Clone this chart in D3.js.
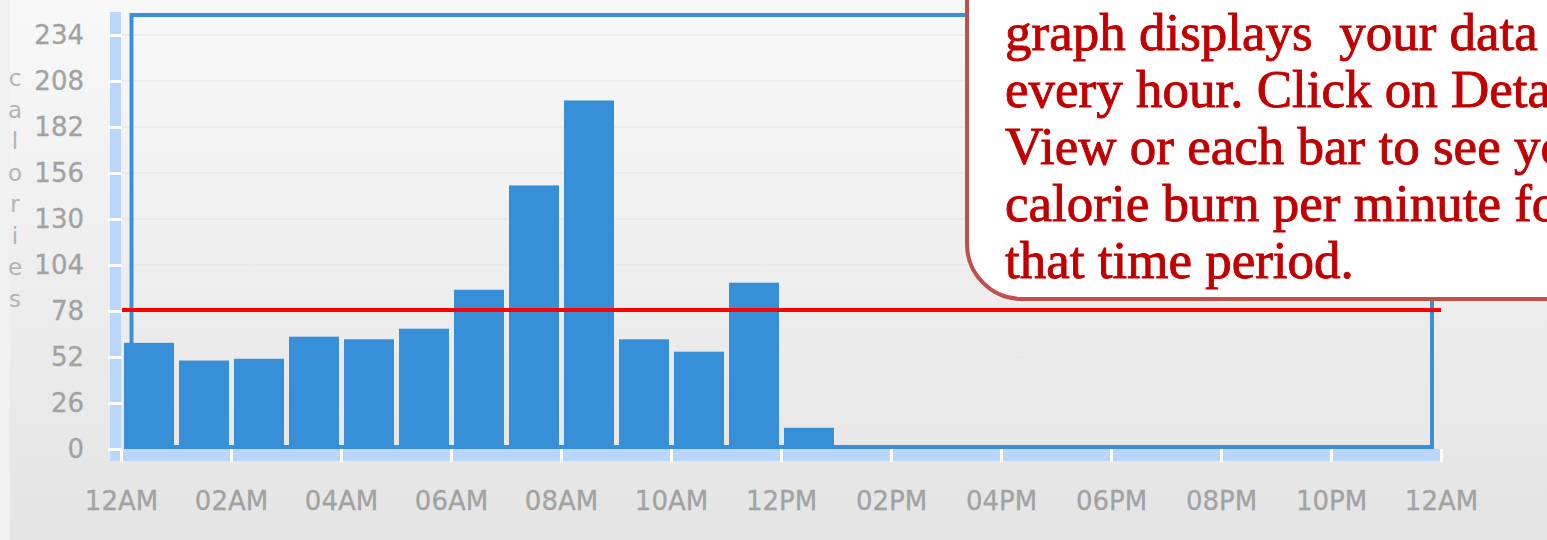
<!DOCTYPE html>
<html>
<head>
<meta charset="utf-8">
<script src="https://cdn.jsdelivr.net/npm/d3@7"></script>
<style>
  html, body { margin: 0; padding: 0; background: #eeeeee; }
  svg { display: block; }
</style>
</head>
<body>
<div id="chart"></div>
<script>
// hourly calories, 24 bars (12AM .. 11PM)
const hours = d3.range(24);
const calories = [60, 50, 51, 63.5, 62, 68, 90, 149, 197, 62, 55, 94, 12, 0, 0, 0, 0, 0, 0, 0, 0, 0, 0, 0];
const yTicks = [0, 26, 52, 78, 104, 130, 156, 182, 208, 234];
const xTickHours = [0, 2, 4, 6, 8, 10, 12, 14, 16, 18, 20, 22, 24];
const xTickLabels = ["12AM", "02AM", "04AM", "06AM", "08AM", "10AM", "12PM", "02PM", "04PM", "06PM", "08PM", "10PM", "12AM"];
const goal = 78.6;
const yTitle = "calories";
const noteLines = [
    "graph displays  your data",
    "every hour. Click on Detail",
    "View or each bar to see your",
    "calorie burn per minute for",
    "that time period."
];

const width = 1547, height = 540;
const x = d3.scaleLinear().domain([0, 24]).range([121, 1441]);
const y = d3.scaleLinear().domain([0, 234]).range([449, 35]);

const svg = d3.select("#chart")
    .append("svg")
    .attr("width", width)
    .attr("height", height);

const defs = svg.append("defs");
const grad = defs.append("linearGradient")
    .attr("id", "bg").attr("x1", 0).attr("y1", 0).attr("x2", 0).attr("y2", 1);
grad.append("stop").attr("offset", "0%").attr("stop-color", "#f8f8f8");
grad.append("stop").attr("offset", "100%").attr("stop-color", "#e4e4e4");

svg.append("rect")
    .attr("width", width).attr("height", height)
    .attr("fill", "url(#bg)");
svg.append("rect")
    .attr("width", 10).attr("height", height)
    .attr("fill", "#f0f0f0");

// grid lines
svg.append("g").selectAll("line")
    .data(yTicks.slice(1))
    .enter().append("line")
    .attr("x1", x(0)).attr("x2", x(24))
    .attr("y1", function(d) { return y(d); })
    .attr("y2", function(d) { return y(d); })
    .attr("stroke", "#e9e9e9")
    .attr("stroke-width", 1.5);

// light blue axis bands
svg.append("rect")
    .attr("x", 110).attr("y", 12)
    .attr("width", x(0) - 110).attr("height", 461 - 12)
    .attr("fill", "#bad7fb");
svg.append("rect")
    .attr("x", 110).attr("y", y(0))
    .attr("width", x(24) - 110).attr("height", 461 - y(0))
    .attr("fill", "#bad7fb");

// selection box behind the bars
svg.append("rect")
    .attr("x", x(0) + 10.5).attr("y", 15)
    .attr("width", x(24) - 9 - (x(0) + 10.5))
    .attr("height", y(0) - 2 - 15)
    .attr("fill", "none")
    .attr("stroke", "#3a8fd8")
    .attr("stroke-width", 4);

// bars
const step = x(1) - x(0);
svg.append("g").selectAll("rect")
    .data(hours)
    .enter().append("rect")
    .attr("x", function(d) { return x(d) + 3; })
    .attr("width", step - 5)
    .attr("y", function(d) { return y(calories[d]); })
    .attr("height", function(d) { return y(0) - y(calories[d]); })
    .attr("fill", "#3790d7");

// axes
const yAxis = svg.append("g")
    .attr("transform", "translate(" + (x(0) + 1) + ",0)")
    .call(d3.axisLeft(y).tickValues(yTicks).tickSize(14).tickPadding(24));
const xAxis = svg.append("g")
    .attr("transform", "translate(0," + y(0) + ")")
    .call(d3.axisBottom(x).tickValues(xTickHours).tickSize(13).tickPadding(30)
        .tickFormat(function(d, i) { return xTickLabels[i]; }));

[yAxis, xAxis].forEach(function(a) {
    a.select(".domain").remove();
    a.selectAll(".tick line").attr("stroke", "#ffffff").attr("stroke-width", 3);
    a.selectAll(".tick text")
        .attr("fill", "#a2a2a2")
        .attr("stroke", "#a2a2a2")
        .attr("stroke-width", 0.3)
        .style("font-family", "'DejaVu Sans', Verdana, sans-serif")
        .style("font-size", "26px");
});

// y title, one letter per line
svg.append("text")
    .attr("fill", "#b4b4b4")
    .style("font-family", "'DejaVu Sans', Verdana, sans-serif")
    .style("font-size", "23px")
    .attr("text-anchor", "middle")
    .selectAll("tspan")
    .data(yTitle.split(""))
    .enter().append("tspan")
    .attr("x", 15)
    .attr("y", function(d, i) { return 86 + i * 31.5; })
    .text(function(d) { return d; });

// goal line
svg.append("line")
    .attr("x1", x(0) + 1).attr("x2", x(24))
    .attr("y1", y(goal)).attr("y2", y(goal))
    .attr("stroke", "#ff0000")
    .attr("stroke-width", 4);

// callout
const r = 55, cx = 967, cy = 299;
svg.append("path")
    .attr("d", "M" + cx + ",-10 L" + cx + "," + (cy - r) +
        " A" + r + "," + r + " 0 0 0 " + (cx + r) + "," + cy +
        " L" + (width + 20) + "," + cy + " L" + (width + 20) + ",-10 Z")
    .attr("fill", "#ffffff")
    .attr("stroke", "#c0504d")
    .attr("stroke-width", 4);

svg.append("g").selectAll("text")
    .data(noteLines)
    .enter().append("text")
    .attr("x", 1005)
    .attr("y", function(d, i) { return 50 + i * 57; })
    .attr("fill", "#c00000")
    .attr("stroke", "#c00000")
    .attr("stroke-width", 0.9)
    .style("font-family", "'Liberation Serif', 'Times New Roman', serif")
    .style("font-size", "53px")
    .style("white-space", "pre")
    .text(function(d) { return d; });
</script>
</body>
</html>
